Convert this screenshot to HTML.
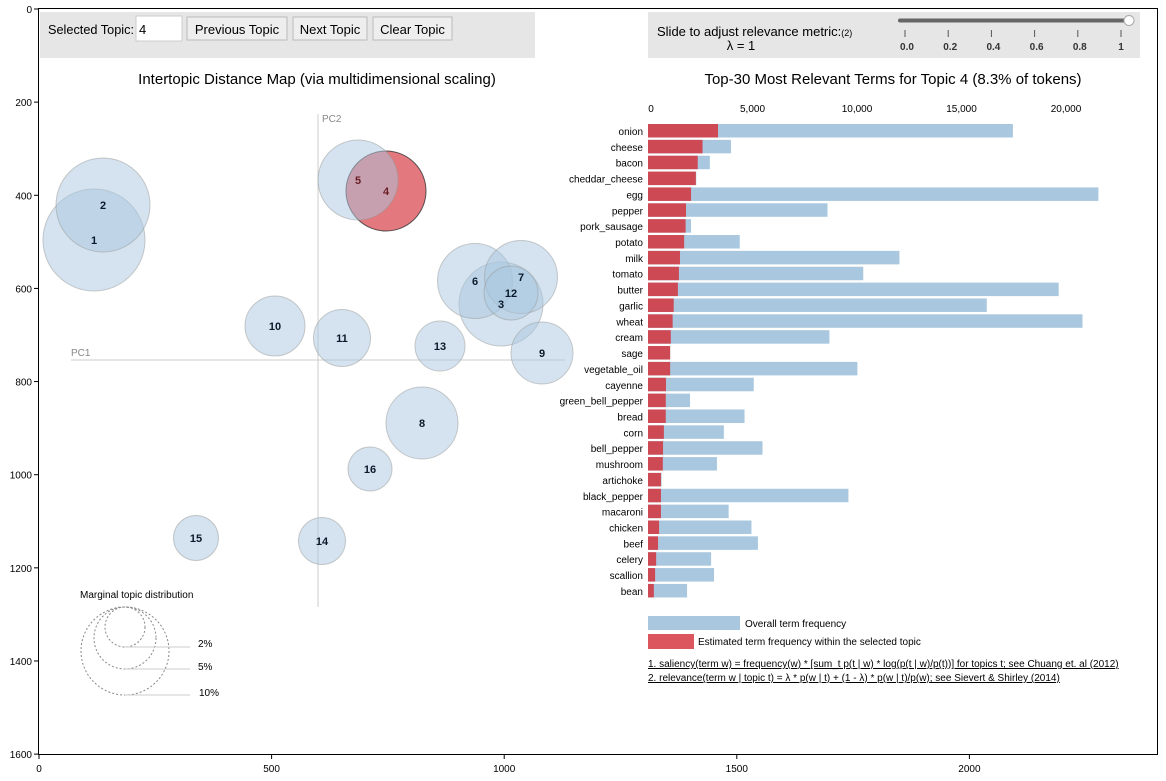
<!DOCTYPE html>
<html><head><meta charset="utf-8">
<style>
body{margin:0;background:#fff;font-family:"Liberation Sans",sans-serif;}
#root{position:relative;width:1166px;height:781px;overflow:hidden;}
svg text{font-family:"Liberation Sans",sans-serif;}
</style></head>
<body>
<div id="root">
<svg id="svg" width="1166" height="781" xmlns="http://www.w3.org/2000/svg">
 <rect x="0" y="0" width="1166" height="781" fill="#fff"/>
 <rect x="40" y="12" width="495" height="46" fill="#e6e6e6"/>
 <text x="48" y="34" font-size="13" textLength="86" lengthAdjust="spacingAndGlyphs">Selected Topic:</text>
 <rect x="136" y="16" width="46" height="25" fill="#fff" stroke="#ccc"/>
 <text x="139" y="34" font-size="13">4</text>
 <g><rect x="187" y="17" width="100" height="23" fill="#eee" stroke="#bbb"/><text x="237" y="34" font-size="13" text-anchor="middle">Previous Topic</text></g>
 <g><rect x="293" y="17" width="74" height="23" fill="#eee" stroke="#bbb"/><text x="330" y="34" font-size="13" text-anchor="middle">Next Topic</text></g>
 <g><rect x="373" y="17" width="79" height="23" fill="#eee" stroke="#bbb"/><text x="412.5" y="34" font-size="13" text-anchor="middle">Clear Topic</text></g>
 <rect x="648" y="12" width="492" height="46" fill="#e6e6e6"/>
 <text x="657" y="36" font-size="13">Slide to adjust relevance metric:<tspan font-size="9">(2)</tspan></text>
 <text x="741" y="50" font-size="13" text-anchor="middle">λ = 1</text>
 <g>
  <rect x="898" y="18.5" width="232" height="4" rx="2" fill="#666"/>
  <circle cx="1129" cy="20.5" r="5" fill="#fff" stroke="#aaa"/>
 </g>
 <g id="sliderticks" font-size="10" font-weight="bold" fill="#333"></g>
 <text x="317" y="84" font-size="15" text-anchor="middle">Intertopic Distance Map (via multidimensional scaling)</text>
 <text x="893" y="84" font-size="15" text-anchor="middle">Top-30 Most Relevant Terms for Topic 4 (8.3% of tokens)</text>
 <line x1="318" y1="114" x2="318" y2="607" stroke="#ccc"/>
 <text x="322" y="122" font-size="10" fill="#888">PC2</text>
 <line x1="71" y1="360" x2="565" y2="360" stroke="#ccc"/>
 <text x="71" y="356" font-size="10" fill="#888">PC1</text>
 <g id="circles"></g>
 <text x="80" y="598" font-size="10">Marginal topic distribution</text>
 <g fill="none" stroke="#888" stroke-dasharray="2,2">
  <circle cx="125" cy="627" r="20"/><circle cx="125" cy="638" r="31"/><circle cx="125" cy="651" r="44"/>
 </g>
 <g stroke="#ccc">
  <line x1="125" y1="647" x2="190" y2="647"/><line x1="125" y1="669" x2="190" y2="669"/><line x1="125" y1="695" x2="190" y2="695"/>
 </g>
 <g font-size="10">
  <text x="198" y="647">2%</text><text x="198" y="670">5%</text><text x="199" y="696">10%</text>
 </g>
 <g id="bars"></g>
 <rect x="648" y="616" width="92" height="14" fill="#a9c8df"/>
 <text x="745" y="627" font-size="10">Overall term frequency</text>
 <rect x="648" y="634" width="46" height="15" fill="#dc565e"/>
 <text x="698" y="645" font-size="10">Estimated term frequency within the selected topic</text>
 <text x="648" y="667" font-size="10" text-decoration="underline">1. saliency(term w) = frequency(w) * [sum_t p(t | w) * log(p(t | w)/p(t))] for topics t; see Chuang et. al (2012)</text>
 <text x="648" y="681" font-size="10" text-decoration="underline">2. relevance(term w | topic t) = λ * p(w | t) + (1 - λ) * p(w | t)/p(w); see Sievert &amp; Shirley (2014)</text>
 <rect x="38.5" y="8.5" width="1119" height="746" fill="none" stroke="#000"/>
 <g id="outerticks" font-size="10"></g>
</svg>
</div>
<script>
const terms=["onion","cheese","bacon","cheddar_cheese","egg","pepper","pork_sausage","potato","milk","tomato","butter","garlic","wheat","cream","sage","vegetable_oil","cayenne","green_bell_pepper","bread","corn","bell_pepper","mushroom","artichoke","black_pepper","macaroni","chicken","beef","celery","scallion","bean"];
const overallFreq=[17460,3970,2960,2310,21550,8590,2060,4390,12030,10300,19650,16210,20790,8680,1060,10020,5060,2010,4620,3630,5480,3300,650,9590,3860,4950,5260,3020,3160,1870];
const topicFreq=[3350,2610,2380,2290,2060,1820,1800,1730,1530,1480,1430,1230,1180,1090,1060,1060,860,850,850,760,720,710,620,620,620,530,480,390,340,280];
const barTicks=[0,5000,10000,15000,20000];
const barTickLabels=["0","5,000","10,000","15,000","20,000"];
const topicIds=["1","2","3","4","5","6","7","8","9","10","11","12","13","14","15","16"];
const topicX=[94,103,501,386,358,475,521,422,542,275,342,511,440,322,196,370];
const topicY=[240,205,304,191,180,281,277,423,353,326,338,293,346,541,538,469];
const topicR=[51,47,42,40,40,37.5,36.5,36,31,30,28.5,27,25,23.5,22.5,22];
const selectedTopic="4";
const sliderTicks=[0,0.2,0.4,0.6,0.8,1];
const sliderTickLabels=["0.0","0.2","0.4","0.6","0.8","1"];
const outerXTicks=[0,500,1000,1500,2000];
const outerYTicks=[0,200,400,600,800,1000,1200,1400,1600];

const NS="http://www.w3.org/2000/svg";
function mk(t,a,p){const e=document.createElementNS(NS,t);for(const k in a)e.setAttribute(k,a[k]);p.appendChild(e);return e;}
const xb=v=>648+v*0.0209;
const yb=i=>124+i*15.86;

const cg=document.getElementById('circles');
topicIds.forEach((id,i)=>{
  const sel=id===selectedTopic;
  const c=mk('circle',{cx:topicX[i],cy:topicY[i],r:topicR[i],fill:sel?'#dc565e':'#a9c8df','fill-opacity':sel?0.8:0.5,stroke:sel?'#333':'#999','stroke-opacity':sel?0.8:0.5},cg);
  
  
});
topicIds.forEach((id,i)=>{
  const t=mk('text',{x:topicX[i],y:topicY[i]+4,'font-size':11,'font-weight':'bold','text-anchor':'middle',fill:(id==='4'||id==='5')?'#6b1d25':'#0b1a2a'},cg);
  t.textContent=id;
  
  
});

const bg=document.getElementById('bars');
barTicks.forEach((v,i)=>{
  const t=mk('text',{x:xb(v)+(i===0?3:0),y:112,'font-size':10,'text-anchor':'middle'},bg);
  t.textContent=barTickLabels[i];
  
  
});
terms.forEach((term,i)=>{
  const y=yb(i);
  const o=mk('rect',{x:xb(0),y:y,width:xb(overallFreq[i])-xb(0),height:13.5,fill:'#a9c8df'},bg);
  
  
  const r=mk('rect',{x:xb(0),y:y,width:xb(topicFreq[i])-xb(0),height:13.5,fill:'#cd4a55'},bg);
  
  
  const t=mk('text',{x:643,y:y+11,'font-size':10,'text-anchor':'end'},bg);
  t.textContent=term;
  
  
});

const sg=document.getElementById('sliderticks');
sliderTicks.forEach((v,i)=>{
  const x=905+v*216;
  mk('line',{x1:x,y1:30,x2:x,y2:37,stroke:'#555'},sg);
  const t=mk('text',{x:x+(i===5?0:2),y:50,'text-anchor':'middle'},sg);
  t.textContent=sliderTickLabels[i];
  
  
});

const og=document.getElementById('outerticks');
outerXTicks.forEach(v=>{
  const x=39+v*0.4652;
  mk('line',{x1:x,y1:755,x2:x,y2:759,stroke:'#000'},og);
  const t=mk('text',{x:x,y:772,'text-anchor':'middle'},og);
  t.textContent=String(v);
  
  
});
outerYTicks.forEach(v=>{
  const y=9+v*0.4657;
  mk('line',{x1:34,y1:y,x2:38,y2:y,stroke:'#000'},og);
  const t=mk('text',{x:32,y:y+4,'text-anchor':'end'},og);
  t.textContent=String(v);
  
  
});
</script>
</body></html>
